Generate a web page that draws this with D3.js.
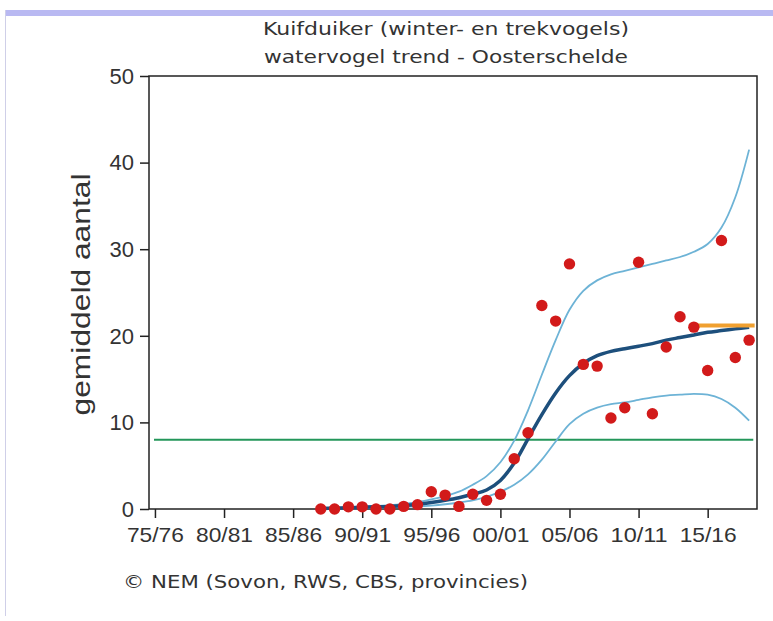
<!DOCTYPE html>
<html><head><meta charset="utf-8">
<script src="https://cdn.jsdelivr.net/npm/d3@7"></script>
<style>html,body{margin:0;padding:0;background:#fff;}svg{display:block;}</style>
</head><body>
<script>
// ---- data ----
const titleLines = ["Kuifduiker (winter- en trekvogels)", "watervogel trend - Oosterschelde"];
const yLabel = "gemiddeld aantal";
const credit = "\u00A9 NEM (Sovon, RWS, CBS, provincies)";
const xTickYears = [1975, 1980, 1985, 1990, 1995, 2000, 2005, 2010, 2015];
const xTickLabels = ["75/76", "80/81", "85/86", "90/91", "95/96", "00/01", "05/06", "10/11", "15/16"];
const yTicks = [0, 10, 20, 30, 40, 50];

const pointYears = [1987,1988,1989,1990,1991,1992,1993,1994,1995,1996,1997,1998,1999,2000,2001,2002,2003,2004,2005,2006,2007,2008,2009,2010,2011,2012,2013,2014,2015,2016,2017,2018];
const pointValues = [0,0,0.25,0.25,0,0,0.3,0.5,2.0,1.6,0.3,1.7,1.0,1.7,5.8,8.8,23.5,21.7,28.3,16.7,16.5,10.5,11.7,28.5,11.0,18.7,22.2,21.0,16.0,31.0,17.5,19.5];

const trendYears = pointYears;
const trendValues = [0.05,0.1,0.15,0.2,0.25,0.3,0.4,0.55,0.75,1.0,1.3,1.7,2.2,3.3,5.3,8.1,10.9,13.4,15.4,16.8,17.7,18.2,18.5,18.8,19.1,19.5,19.8,20.1,20.4,20.6,20.8,21.0];
const upperValues = [0.1,0.15,0.2,0.3,0.35,0.45,0.6,0.8,1.1,1.5,2.0,2.8,3.8,5.4,7.9,11.4,15.5,19.5,23.0,25.2,26.4,27.1,27.5,27.9,28.3,28.7,29.1,29.7,30.6,32.5,36.0,41.5];
const lowerValues = [0,0.05,0.08,0.1,0.15,0.2,0.25,0.3,0.4,0.55,0.75,1.0,1.4,2.0,2.8,4.0,5.7,7.8,9.8,11.0,11.7,12.1,12.3,12.6,12.9,13.1,13.2,13.3,13.2,12.7,11.7,10.2];

const refLevel = 8;            // green horizontal line
const orangeYears = [2014, 2018.4];
const orangeValues = [21.2, 21.2];

// ---- layout ----
const W = 773, H = 621;
const svg = d3.select("body").append("svg").attr("width", W).attr("height", H);

// page frame
svg.append("rect").attr("x", 6).attr("y", 10).attr("width", W - 6).attr("height", 6).attr("fill", "#b9b9f2");
svg.append("line").attr("x1", 5.5).attr("x2", 5.5).attr("y1", 10).attr("y2", 616).attr("stroke", "#cfcfe8").attr("stroke-width", 1);

const plot = {left: 149, right: 757, top: 76, bottom: 509};
const x = d3.scaleLinear().domain([1974.57, 2018.57]).range([plot.left, plot.right]);
const y = d3.scaleLinear().domain([0, 50]).range([plot.bottom, plot.top]);

const font = "'Liberation Sans', Arial, sans-serif";
const tfont = "'DejaVu Sans', Verdana, sans-serif";

// title
svg.selectAll("text.title").data(titleLines).enter().append("text")
  .attr("class", "title")
  .attr("x", 446).attr("y", (d, i) => 35 + i * 28)
  .attr("text-anchor", "middle")
  .attr("font-family", tfont).attr("font-size", 18)
  .attr("textLength", (d, i) => i === 0 ? 366 : 364)
  .attr("lengthAdjust", "spacingAndGlyphs")
  .attr("fill", "#333").text(d => d);

// axes
const yAxis = d3.axisLeft(y).tickValues(yTicks).tickSize(9).tickPadding(6).tickFormat(d3.format("d"));
const gy = svg.append("g").attr("transform", `translate(${plot.left},0)`).call(yAxis);
gy.select(".domain").remove();
gy.selectAll(".tick line").attr("stroke", "#222").attr("stroke-width", 1.5);
gy.selectAll(".tick text").attr("font-family", font).attr("font-size", 22).attr("fill", "#333").attr("dy", "0.33em");

const xAxis = d3.axisBottom(x).tickValues(xTickYears).tickSize(9).tickPadding(9)
  .tickFormat((d, i) => xTickLabels[i]);
const gx = svg.append("g").attr("transform", `translate(0,${plot.bottom})`).call(xAxis);
gx.select(".domain").remove();
gx.selectAll(".tick line").attr("stroke", "#222").attr("stroke-width", 1.5);
gx.selectAll(".tick text").attr("font-family", font).attr("font-size", 21).attr("fill", "#333")
  .attr("textLength", 57).attr("lengthAdjust", "spacingAndGlyphs");

// plot frame
svg.append("rect").attr("x", plot.left).attr("y", plot.top)
  .attr("width", plot.right - plot.left).attr("height", plot.bottom - plot.top)
  .attr("fill", "none").attr("stroke", "#222").attr("stroke-width", 1.5);

// y label
svg.append("text")
  .attr("transform", `translate(90,${(plot.top + plot.bottom) / 2 + 2}) rotate(-90)`)
  .attr("text-anchor", "middle")
  .attr("font-family", font).attr("font-size", 26)
  .attr("textLength", 242).attr("lengthAdjust", "spacingAndGlyphs")
  .attr("fill", "#333").text(yLabel);

// reference line
svg.append("line")
  .attr("x1", plot.left + 5).attr("x2", x(2018.3))
  .attr("y1", y(refLevel)).attr("y2", y(refLevel))
  .attr("stroke", "#23965a").attr("stroke-width", 2);

const line = d3.line().x(d => x(d[0])).y(d => y(d[1])).curve(d3.curveCatmullRom.alpha(0.5));

// bands
[upperValues, lowerValues].forEach(vals => {
  svg.append("path").datum(trendYears.map((yr, i) => [yr, vals[i]]))
    .attr("d", line).attr("fill", "none").attr("stroke", "#6db3d6").attr("stroke-width", 1.8);
});
// trend
svg.append("path").datum(trendYears.map((yr, i) => [yr, trendValues[i]]))
  .attr("d", line).attr("fill", "none").attr("stroke", "#1d4f7c").attr("stroke-width", 3.5);

// orange
svg.append("path").datum(orangeYears.map((yr, i) => [yr, orangeValues[i]]))
  .attr("d", d3.line().x(d => x(d[0])).y(d => y(d[1])))
  .attr("fill", "none").attr("stroke", "#f0a030").attr("stroke-width", 4);

// points
svg.selectAll("circle.pt").data(pointYears.map((yr, i) => [yr, pointValues[i]])).enter().append("circle")
  .attr("class", "pt").attr("cx", d => x(d[0])).attr("cy", d => y(d[1])).attr("r", 5.7)
  .attr("fill", "#d21a1a");

// credit
svg.append("text").attr("x", 123).attr("y", 588)
  .attr("font-family", tfont).attr("font-size", 18)
  .attr("textLength", 405).attr("lengthAdjust", "spacingAndGlyphs")
  .attr("fill", "#333").text(credit);
</script>
</body></html>
